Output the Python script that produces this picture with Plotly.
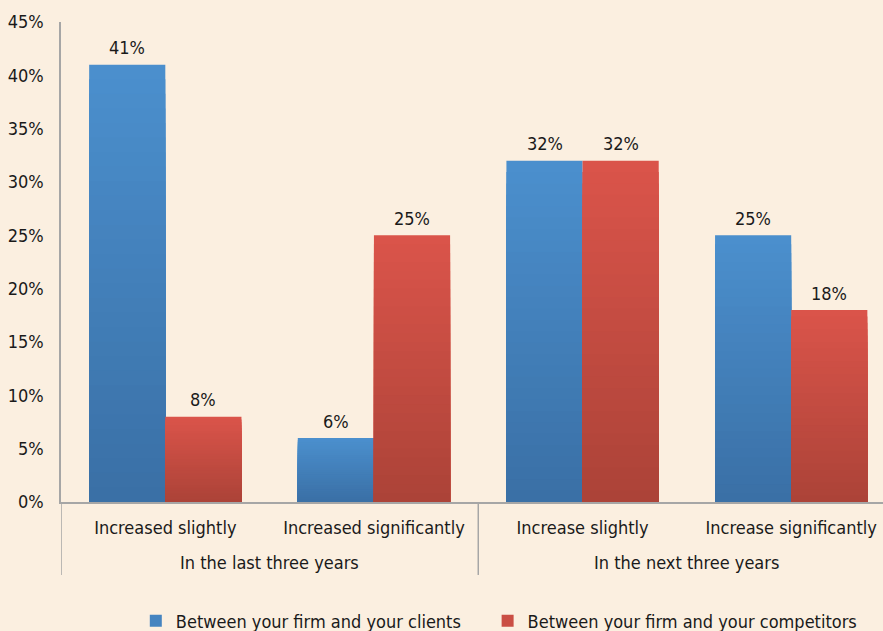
import plotly.graph_objects as go

# Category labels and their time-horizon groups
changes = ["Increased slightly", "Increased significantly",
           "Increase slightly", "Increase significantly"]
groups = ["In the last three years", "In the next three years"]
group_members = [[0, 1], [2, 3]]  # category indices belonging to each group

# Percentages for each relationship
clients = [41, 6, 32, 25]
competitors = [8, 25, 32, 18]

BAR_W = 0.365
series = [
    ("Between your firm and your clients", clients, (75, 143, 205), (58, 112, 166), -BAR_W, "legend", 0.091),
    ("Between your firm and your competitors", competitors, (218, 84, 74), (172, 67, 56), 0.0, "legend2", 0.519),
]

FONT = "Liberation Sans Narrow, Arial Narrow, DejaVu Sans Condensed, sans-serif"
TXT = "#1a1a1a"
AXIS = "#A6A6A6"
BG = "#FBEFE0"
STEPS = 30  # colour bands used for the vertical gradient


def blend(c0, c1, t):
    return "rgb(%d,%d,%d)" % tuple(round(a + (b - a) * t) for a, b in zip(c0, c1))


fig = go.Figure()
legend_layout = {}
for name, vals, top, bottom, offset, legend_id, legend_x in series:
    for k in range(STEPS):
        frac = (STEPS - k) / STEPS
        t = k / (STEPS - 1)
        fig.add_trace(go.Bar(
            x=changes,
            y=[v * frac for v in vals],
            offset=offset,
            width=BAR_W,
            marker=dict(color=blend(top, bottom, t), line=dict(width=0)),
            name=name,
            legend=legend_id,
            showlegend=(k == STEPS // 3),
            hoverinfo="skip",
        ))
    # Value labels above each bar
    for i, v in enumerate(vals):
        fig.add_annotation(
            x=i + offset + BAR_W / 2, y=v, xref="x", yref="y",
            yshift=17, yanchor="middle", showarrow=False,
            text=f"{v}%", font=dict(family=FONT, size=18, color=TXT),
        )
    legend_layout[legend_id] = dict(
        orientation="h", x=legend_x, xanchor="left", y=-0.248, yanchor="middle",
        font=dict(family=FONT, size=18, color=TXT),
        bgcolor="rgba(0,0,0,0)", itemwidth=30,
    )

# Group labels under the category labels, centred on their categories
for label, members in zip(groups, group_members):
    fig.add_annotation(
        x=sum(members) / len(members), xref="x",
        y=-0.125, yref="paper", yanchor="middle",
        text=label, showarrow=False,
        font=dict(family=FONT, size=18, color=TXT),
    )

# Vertical dividers at the group boundaries
for members in group_members:
    fig.add_shape(type="line", xref="x", yref="paper",
                  x0=members[0] - 0.5, x1=members[0] - 0.5, y0=0, y1=-0.152,
                  line=dict(color=AXIS, width=1.5))

fig.update_layout(
    width=883, height=631,
    barmode="overlay",
    paper_bgcolor=BG,
    plot_bgcolor=BG,
    margin=dict(l=61, r=0, t=22, b=129, autoexpand=False),
    font=dict(family=FONT, size=18, color=TXT),
    showlegend=True,
    **legend_layout,
)
fig.update_yaxes(
    range=[0, 45], dtick=5, ticksuffix="%",
    showgrid=False, zeroline=False,
    showline=True, linecolor=AXIS, linewidth=1.5,
    ticks="", ticklabelstandoff=12,
    tickfont=dict(family=FONT, size=18, color=TXT),
)
fig.update_xaxes(
    range=[-0.5, 3.44],
    showgrid=False, showline=True, linecolor=AXIS, linewidth=1.5,
    ticks="", ticklabelstandoff=9,
    tickfont=dict(family=FONT, size=18, color=TXT),
)

fig.write_html("out.html")
